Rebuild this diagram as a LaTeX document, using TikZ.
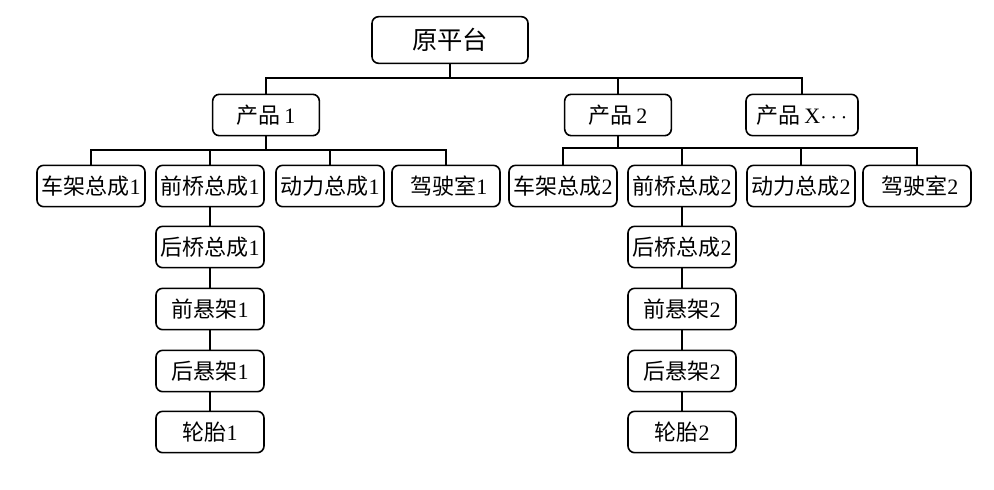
\documentclass[tikz,border=0pt]{standalone}
\usepackage{fontspec}
\setmainfont{Liberation Serif}
\newfontfamily\cjk{Noto Sans CJK SC}
\usepackage{tikz}
\usetikzlibrary{positioning, calc}

\begin{document}
\begin{tikzpicture}[
  x=0.75pt, y=-0.75pt,
  partbox/.style={draw, rounded corners=5pt, line width=1.2pt, minimum width=81pt, minimum height=31pt, inner sep=1pt, font=\fontsize{16.5}{18}\selectfont},
  prodbox/.style={partbox, minimum width=80pt},
  rootbox/.style={partbox, minimum width=117pt, minimum height=35pt, font=\fontsize{19}{21}\selectfont},
  link/.style={line width=0.9pt},
  ]
  \useasboundingbox (0,0) rectangle (994,489);
  % platform and products
  \node[rootbox] (root) at (450,40) {{\cjk 原平台}};
  \node[prodbox] (p1) at (266,115) {{\cjk 产品}\,1};
  \node[prodbox] (p2) at (618,115) {{\cjk 产品}\,2};
  \node[prodbox, minimum width=84pt] (px) at (802,115) {{\cjk 产品}\,X$\cdots$};
  \coordinate (bus0) at (450,78);
  \draw[link] (root) -- (bus0);
  \draw[link] (p1.north) |- (bus0) -| (px.north);
  \draw[link] (p2.north) -- (p2.north |- bus0);
  % product 1
  \node[partbox] (frame1) at (91,186) {{\cjk 车架总成}1};
  \node[partbox] (faxle1) at (210,186) {{\cjk 前桥总成}1};
  \node[partbox] (power1) at (330,186) {{\cjk 动力总成}1};
  \node[partbox] (cab1) at (446,186) {\ {\cjk 驾驶室}1};
  \node[partbox] (raxle1) at (210,247) {{\cjk 后桥总成}1};
  \node[partbox] (fsusp1) at (210,309) {{\cjk 前悬架}1};
  \node[partbox] (rsusp1) at (210,371) {{\cjk 后悬架}1};
  \node[partbox] (tire1) at (210,432) {{\cjk 轮胎}1};
  \coordinate (bus1) at (266,150);
  \draw[link] (p1) -- (bus1);
  \draw[link] (frame1.north) |- (bus1) -| (cab1.north);
  \draw[link] (faxle1.north) -- (faxle1.north |- bus1);
  \draw[link] (power1.north) -- (power1.north |- bus1);
  \draw[link] (faxle1) -- (raxle1) -- (fsusp1) -- (rsusp1) -- (tire1);
  % product 2
  \node[partbox] (frame2) at (563,186) {{\cjk 车架总成}2};
  \node[partbox] (faxle2) at (682,186) {{\cjk 前桥总成}2};
  \node[partbox] (power2) at (801,186) {{\cjk 动力总成}2};
  \node[partbox] (cab2) at (917,186) {\ {\cjk 驾驶室}2};
  \node[partbox] (raxle2) at (682,247) {{\cjk 后桥总成}2};
  \node[partbox] (fsusp2) at (682,309) {{\cjk 前悬架}2};
  \node[partbox] (rsusp2) at (682,371) {{\cjk 后悬架}2};
  \node[partbox] (tire2) at (682,432) {{\cjk 轮胎}2};
  \coordinate (bus2) at (618,148);
  \draw[link] (p2) -- (bus2);
  \draw[link] (frame2.north) |- (bus2) -| (cab2.north);
  \draw[link] (faxle2.north) -- (faxle2.north |- bus2);
  \draw[link] (power2.north) -- (power2.north |- bus2);
  \draw[link] (faxle2) -- (raxle2) -- (fsusp2) -- (rsusp2) -- (tire2);
\end{tikzpicture}
\end{document}
